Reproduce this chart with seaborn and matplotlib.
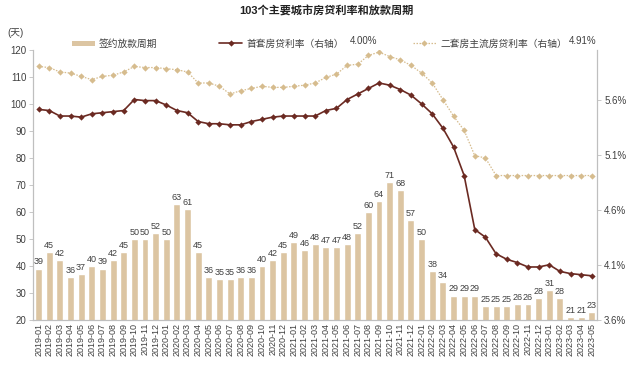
import matplotlib
matplotlib.use("Agg")
import matplotlib.pyplot as plt
import numpy as np
import seaborn as sns
from matplotlib.lines import Line2D
from matplotlib.patches import Patch

# month labels 2019-01 .. 2023-05
months = [f"{y}-{m:02d}" for y in range(2019, 2024) for m in range(1, 13)][:53]

# 签约放款周期 (days)
loan_days = [39, 45, 42, 36, 37, 40, 39, 42, 45, 50, 50, 52,
             50, 63, 61, 45, 36, 35, 35, 36, 36, 40, 42, 45,
             49, 46, 48, 47, 47, 48, 52, 60, 64, 71, 68, 57,
             50, 38, 34, 29, 29, 29, 25, 25, 25, 26, 26, 28,
             31, 28, 21, 21, 23]

# 首套房贷利率 (%)
first_rate = [5.51, 5.50, 5.45, 5.45, 5.44, 5.47, 5.48, 5.49, 5.50, 5.60, 5.59, 5.59,
              5.55, 5.50, 5.48, 5.40, 5.38, 5.38, 5.37, 5.37, 5.40, 5.42, 5.44, 5.45,
              5.45, 5.45, 5.45, 5.50, 5.52, 5.60, 5.65, 5.70, 5.75, 5.73, 5.69, 5.64,
              5.56, 5.47, 5.34, 5.17, 4.91, 4.42, 4.35, 4.20, 4.15, 4.12, 4.08, 4.08,
              4.10, 4.04, 4.02, 4.01, 4.00]

# 二套房主流房贷利率 (%)
second_rate = [5.90, 5.89, 5.85, 5.84, 5.81, 5.78, 5.81, 5.82, 5.85, 5.90, 5.89, 5.89,
               5.88, 5.87, 5.85, 5.75, 5.75, 5.72, 5.65, 5.68, 5.70, 5.72, 5.71, 5.71,
               5.72, 5.73, 5.75, 5.80, 5.83, 5.91, 5.92, 6.00, 6.03, 5.99, 5.96, 5.91,
               5.84, 5.75, 5.60, 5.45, 5.32, 5.09, 5.07, 4.91, 4.91, 4.91, 4.91, 4.91,
               4.91, 4.91, 4.91, 4.91, 4.91]

left_ticks = [20, 30, 40, 50, 60, 70, 80, 90, 100, 110, 120]
right_ticks = [3.6, 4.1, 4.6, 5.1, 5.6]

bar_color = "#DCC5A2"
dark_color = "#6B2A22"
light_color = "#D6BC8E"
axis_grey = "#BFBFBF"
text_grey = "#404040"

sns.set_style("white")
plt.rcParams["font.family"] = ["Liberation Sans", "Noto Sans CJK SC", "DejaVu Sans"]

fig, ax = plt.subplots(figsize=(6.4, 3.84), dpi=100)
fig.subplots_adjust(left=0.052, right=0.933, top=0.870, bottom=0.167)

sns.barplot(x=months, y=loan_days, color=bar_color, saturation=1, width=0.65, ax=ax)
ax.bar_label(ax.containers[0], fontsize=6.5, padding=1.5, color=text_grey)
ax.set_ylim(20, 120)
ax.set_yticks(left_ticks)
ax.set_xlim(-0.5, len(months) - 0.5)

ax2 = ax.twinx()
sns.lineplot(x=months, y=first_rate, ax=ax2, sort=False, color=dark_color,
             linewidth=1.2, marker="D", markersize=3.2, markeredgewidth=0)
sns.lineplot(x=months, y=second_rate, ax=ax2, sort=False, color=light_color,
             linewidth=0.9, linestyle=(0, (1.2, 1.2)), marker="D", markersize=3.2,
             markeredgewidth=0)
ax2.set_ylim(3.6, 6.05)
ax2.set_yticks(right_ticks)
ax2.set_yticklabels([f"{v:.1f}%" for v in right_ticks])
ax.set_xlim(-0.5, len(months) - 0.5)

for a in (ax, ax2):
    for s in ("top",):
        a.spines[s].set_visible(False)
    for s in ("left", "right", "bottom"):
        a.spines[s].set_color(axis_grey)
        a.spines[s].set_linewidth(0.8)
    a.tick_params(axis="y", labelsize=7, colors=text_grey, length=3, width=0.6,
                  color=axis_grey, pad=2)
ax.tick_params(axis="y", left=True)
ax2.tick_params(axis="y", right=True)
ax.tick_params(axis="x", labelsize=6.5, colors=text_grey, rotation=90, length=0, pad=2)
ax.set_xticks(np.arange(len(months)) + 0.5, minor=True)
ax.tick_params(axis="x", which="minor", length=2.5, width=0.6, color=axis_grey)
ax.set_xlabel("")
ax.set_ylabel("")
ax2.set_ylabel("")

fig.text(0.51, 0.972, "103个主要城市房贷利率和放款周期", ha="center", va="center",
         fontsize=8, fontweight="bold", color="#222222")
fig.text(0.012, 0.915, "(天)", ha="left", va="center", fontsize=7, color=text_grey)

leg_kw = dict(frameon=False, fontsize=7, handlelength=2.4, handletextpad=0.4,
              loc="center left", labelcolor=text_grey, borderpad=0, borderaxespad=0)
fig.legend(handles=[Patch(facecolor=bar_color, edgecolor="none")],
           labels=["签约放款周期"], bbox_to_anchor=(0.112, 0.886), handleheight=0.5, **leg_kw)
fig.legend(handles=[Line2D([], [], color=dark_color, lw=1.2, marker="D", ms=3.2, mew=0)],
           labels=["首套房贷利率（右轴）"], bbox_to_anchor=(0.342, 0.886), **leg_kw)
fig.legend(handles=[Line2D([], [], color=light_color, lw=0.9, ls=(0, (1.2, 1.2)),
                           marker="D", ms=3.2, mew=0)],
           labels=["二套房主流房贷利率（右轴）"], bbox_to_anchor=(0.645, 0.886), **leg_kw)
fig.text(0.547, 0.893, "4.00%", ha="left", va="center", fontsize=7, color=text_grey)
fig.text(0.888, 0.893, "4.91%", ha="left", va="center", fontsize=7, color=text_grey)

fig.savefig("out.png", dpi=100)
